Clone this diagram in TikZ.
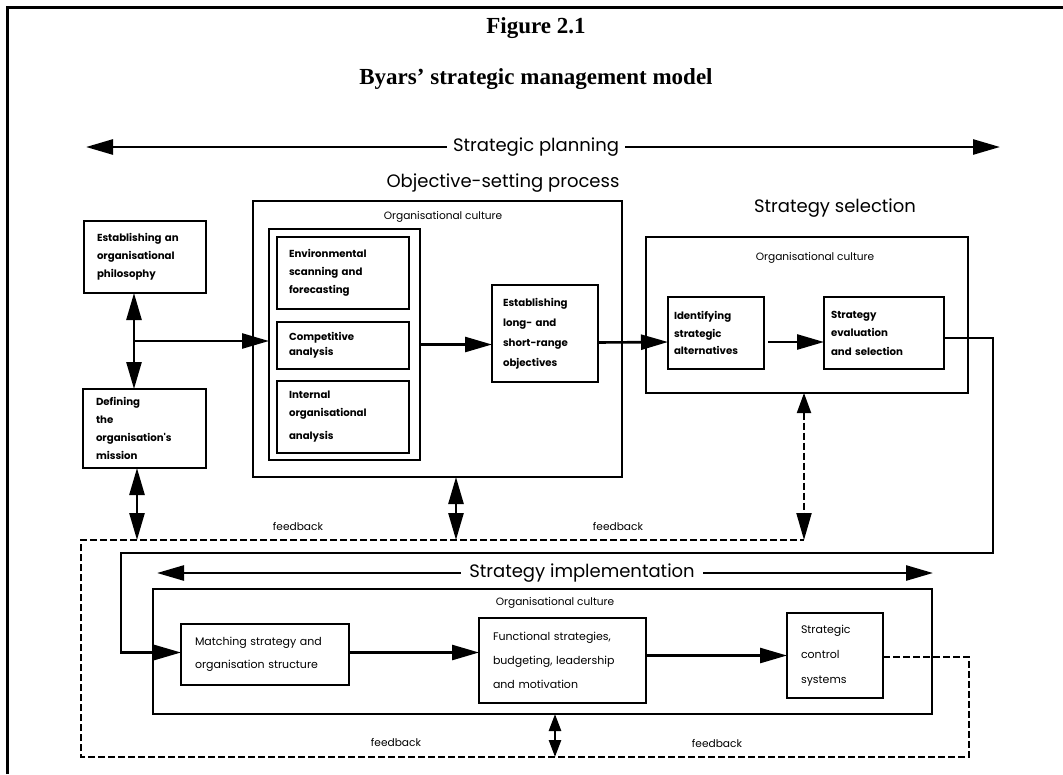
\documentclass[tikz,border=0pt]{standalone}
\usepackage{fontspec}
\setmainfont{Liberation Serif}
\newfontfamily\plotfont{Poppins}
\usetikzlibrary{arrows.meta}
\begin{document}
\begin{tikzpicture}[x=1pt,y=-1pt,
  frameline/.style={line width=3pt},
  box/.style={draw, line width=1.1pt, anchor=north west, inner sep=0pt, outer sep=0pt},
  btxt/.style={font=\plotfont\bfseries\fontsize{10.2}{18}\selectfont, align=left},
  ntxt/.style={font=\plotfont\fontsize{11}{24}\selectfont, align=left},
  small/.style={font=\plotfont\fontsize{10.6}{12}\selectfont, inner sep=0pt},
  heading/.style={font=\plotfont\fontsize{18}{20}\selectfont, inner sep=0pt},
  title/.style={font=\bfseries\fontsize{23}{26}\selectfont, inner sep=0pt},
  flow/.style={line width=2.6pt, -{Triangle[length=27pt,width=15pt]}},
  twoway/.style={line width=2.6pt, {Triangle[length=27pt,width=15pt]}-{Triangle[length=27pt,width=15pt]}},
  shortway/.style={line width=2.6pt, {Triangle[length=17pt,width=12pt]}-{Triangle[length=17pt,width=12pt]}},
  fb/.style={line width=2pt, dash pattern=on 7pt off 3pt},
]
\useasboundingbox (0,0) rectangle (1063,774);

% page frame (left and top edges)
\draw[frameline] (7,774) -- (7,7) -- (1063,7);

% titles
\node[title] (fig) at (536,28) {Figure 2.1};
\node[title] (ttl) at (536,79) {Byars' strategic management model};

% strategic planning span
\coordinate (pl) at (86,147);
\coordinate (pr) at (1000,147);
\draw[twoway] (pl) -- (pr);
\node[heading, fill=white, inner xsep=6pt, inner ysep=3pt] (planlbl) at (536,147) {Strategic planning};

% left column
\node[box, minimum width=122pt, minimum height=72pt, text width=96pt, btxt] (phil) at (84,221)
  {Establishing an\\organisational\\philosophy};
\node[box, minimum width=123pt, minimum height=79pt, text width=97pt, btxt] (mission) at (83,389)
  {Defining\\the\\organisation's\\mission};

% objective-setting process
\node[heading] (objhead) at (503,183) {Objective-setting process};
\node[box, minimum width=369pt, minimum height=276pt] (objbox) at (253,201) {};
\node[small] (objcult) at (443,217) {Organisational culture};
\node[box, minimum width=151pt, minimum height=231pt] (group) at (269,229) {};
\node[box, minimum width=132pt, minimum height=72pt, text width=108pt, btxt] (env) at (277,237)
  {Environmental\\scanning and\\forecasting};
\node[box, minimum width=132pt, minimum height=47pt, text width=108pt, btxt, font=\plotfont\bfseries\fontsize{10.2}{15}\selectfont] (comp) at (277,322)
  {Competitive\\analysis};
\node[box, minimum width=132pt, minimum height=72pt, text width=108pt, btxt] (intern) at (277,381)
  {Internal\\organisational\\[5pt]analysis};
\node[box, minimum width=106pt, minimum height=97pt, text width=84pt, btxt, font=\plotfont\bfseries\fontsize{10.2}{20}\selectfont] (longrange) at (492,285)
  {Establishing\\long- and\\short-range\\objectives};

% strategy selection
\node[heading] (selhead) at (835,208) {Strategy selection};
\node[box, minimum width=322pt, minimum height=156pt] (selbox) at (646,237) {};
\node[small] (selcult) at (815,258) {Organisational culture};
\node[box, minimum width=96pt, minimum height=72pt, text width=84pt, btxt, font=\plotfont\bfseries\fontsize{10.2}{17.5}\selectfont] (ident) at (668,297)
  {Identifying\\strategic\\alternatives};
\node[box, minimum width=120pt, minimum height=72pt, text width=106pt, btxt, font=\plotfont\bfseries\fontsize{10.2}{18.5}\selectfont] (eval) at (824,297)
  {Strategy\\evaluation\\and selection};

% strategy implementation
\coordinate (il) at (157,573);
\coordinate (ir) at (933,573);
\draw[twoway] (il) -- (ir);
\node[heading, fill=white, inner xsep=8pt, inner ysep=3pt] (implhead) at (582,573) {Strategy implementation};
\node[box, minimum width=779pt, minimum height=125pt] (implbox) at (153,589) {};
\node[small] (implcult) at (555,603) {Organisational culture};
\node[box, minimum width=168pt, minimum height=61pt, text width=140pt, ntxt, font=\plotfont\fontsize{11}{23}\selectfont] (matching) at (181,624)
  {Matching strategy and\\organisation structure};
\node[box, minimum width=167pt, minimum height=85pt, text width=139pt, ntxt] (functional) at (479,618)
  {Functional strategies,\\budgeting, leadership\\and motivation};
\node[box, minimum width=96pt, minimum height=85pt, text width=68pt, ntxt, font=\plotfont\fontsize{11}{25}\selectfont] (control) at (787,613)
  {Strategic\\control\\systems};

% flows in the objective-setting stage
\coordinate (j1) at (134,341);
\draw[twoway] (j1 |- phil.south) -- (j1 |- mission.north);
\draw[flow] (j1) -- (j1 -| group.west);
\draw[flow] (group.east) -- (group.east -| longrange.west);
\draw[flow] ([yshift=-9pt]longrange.east) -- ([yshift=-9pt]ident.west);
\draw[flow] ([xshift=4pt,yshift=-9pt]ident.east) -- ([yshift=-9pt]eval.west);

% hand-over from selection to implementation
\coordinate (r1) at (993,553);
\coordinate (l1) at (121,553);
\draw[flow] ([yshift=-5pt]eval.east) -| (r1) -- (l1) |- ([yshift=2pt]matching.west);

% flows in the implementation stage
\draw[flow] ([yshift=2pt]matching.east) -- ([yshift=2pt]matching.east -| functional.west);
\draw[flow] (control.west -| functional.east) -- (control.west);

% feedback loop
\coordinate (br) at (969,757);
\coordinate (bl) at (81,757);
\coordinate (tl) at (81,540);
\coordinate (tr) at (804,540);
\draw[fb] ([yshift=-1.5pt]control.east) -| (br) -- (bl) -- (tl) -- (tr);
\draw[fb, {Triangle[length=20pt,width=14pt]}-{Triangle[length=27pt,width=15pt]}] (tr |- selbox.south) -- (tr);

\coordinate (f1) at (137,540);
\coordinate (f2) at (456,540);
\coordinate (f3) at (555,757);
\draw[twoway] (f1 |- mission.south) -- (f1);
\draw[twoway] (f2 |- objbox.south) -- (f2);
\draw[shortway] (f3 |- implbox.south) -- (f3);

\node[small] (fb1) at (298,526) {feedback};
\node[small] (fb2) at (618,526) {feedback};
\node[small] (fb3) at (396,742) {feedback};
\node[small] (fb4) at (717,743) {feedback};
\end{tikzpicture}
\end{document}
